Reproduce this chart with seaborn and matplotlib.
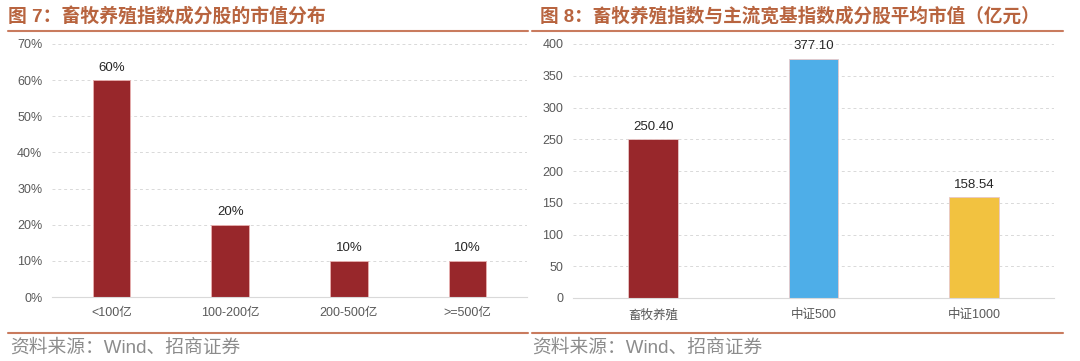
import matplotlib.pyplot as plt
import seaborn as sns
import pandas as pd
from matplotlib.lines import Line2D

# data
left_cats = ['<100亿', '100-200亿', '200-500亿', '>=500亿']
left_vals = [60, 20, 10, 10]
right_cats = ['畜牧养殖', '中证500', '中证1000']
right_vals = [250.40, 377.10, 158.54]

left_title = '图 7：畜牧养殖指数成分股的市值分布'
right_title = '图 8：畜牧养殖指数与主流宽基指数成分股平均市值（亿元）'
source_text = '资料来源：Wind、招商证券'

RED = '#98272b'
BLUE = '#4eaee8'
YELLOW = '#f2c240'
TITLE_C = '#b8643f'
LINE_C = '#c97b5e'
TICK_C = '#595959'

sns.set_style('white')
plt.rcParams['font.family'] = ['Liberation Sans', 'Noto Sans CJK SC', 'DejaVu Sans']

W, H = 1080, 361
fig = plt.figure(figsize=(W / 100, H / 100), dpi=100)


def px_axes(x0, x1, ytop, ybot):
    return fig.add_axes([x0 / W, (H - ybot) / H, (x1 - x0) / W, (ybot - ytop) / H])


def style_axes(ax):
    for s in ['left', 'right', 'top']:
        ax.spines[s].set_visible(False)
    ax.spines['bottom'].set_color('#d9d9d9')
    ax.yaxis.grid(True, linestyle=(0, (3, 3)), color='#d9d9d9', linewidth=0.7)
    ax.set_axisbelow(True)
    ax.tick_params(axis='both', length=0, labelsize=9, colors=TICK_C, pad=7)
    ax.set_xlabel('')
    ax.set_ylabel('')


# left chart
df_l = pd.DataFrame({'cat': left_cats, 'val': left_vals})
ax1 = px_axes(52, 527, 44, 297)
sns.barplot(data=df_l, x='cat', y='val', ax=ax1, color=RED, width=0.314,
            saturation=1, edgecolor='#e8b0b0', linewidth=0.6)
ax1.set_ylim(0, 70)
ax1.set_xlim(-0.5, len(left_cats) - 0.5)
ax1.set_yticks(range(0, 71, 10))
ax1.set_yticklabels([f'{v}%' for v in range(0, 71, 10)])
style_axes(ax1)
for i, v in enumerate(left_vals):
    ax1.text(i, v + 1.8, f'{v}%', ha='center', va='bottom', fontsize=9.5, color='#262626')

# right chart
df_r = pd.DataFrame({'cat': right_cats, 'val': right_vals})
ax2 = px_axes(573, 1054, 44, 298)
sns.barplot(data=df_r, x='cat', y='val', hue='cat', ax=ax2,
            palette=[RED, BLUE, YELLOW], width=0.31, legend=False, saturation=1,
            edgecolor='#e8c8c8', linewidth=0.6)
ax2.set_ylim(0, 400)
ax2.set_xlim(-0.5, len(right_cats) - 0.5)
ax2.set_yticks(range(0, 401, 50))
style_axes(ax2)
ax2.tick_params(axis='x', pad=8)
for i, v in enumerate(right_vals):
    ax2.text(i, v + 10, f'{v:.2f}', ha='center', va='bottom', fontsize=9.5, color='#262626')

# titles, rules and source lines
fig.text(8 / W, 1 - 16 / H, left_title, fontsize=13.6, fontweight='bold',
         color=TITLE_C, va='center', ha='left')
fig.text(540 / W, 1 - 16 / H, right_title, fontsize=13.4, fontweight='bold',
         color=TITLE_C, va='center', ha='left')
for x0, x1 in [(8, 528), (532, 1063)]:
    fig.add_artist(Line2D([x0 / W, x1 / W], [1 - 31 / H] * 2, color=LINE_C, linewidth=1.5))
    fig.add_artist(Line2D([x0 / W, x1 / W], [1 - 333 / H] * 2, color=LINE_C, linewidth=1.5))
fig.text(10 / W, 1 - 348 / H, source_text, fontsize=13.5, color='#8c8c8c', va='center')
fig.text(532 / W, 1 - 348 / H, source_text, fontsize=13.5, color='#8c8c8c', va='center')

fig.savefig('out.png', dpi=100, facecolor='white')
